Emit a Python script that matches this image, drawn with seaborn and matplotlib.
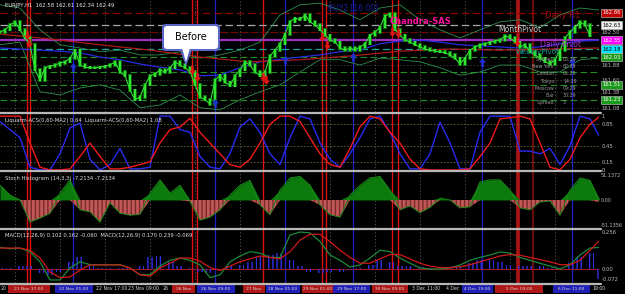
import matplotlib
matplotlib.use("Agg")
import matplotlib.pyplot as plt
import numpy as np
import seaborn as sns
from matplotlib.patches import FancyBboxPatch, Polygon, Rectangle

# ---------------- data ----------------
title_text = "EURJPY,H1  162.58 162.61 162.34 162.49"

# H1 closes, one per bar
closes = [162.50, 162.54, 162.63, 162.69, 162.54, 162.39, 162.26, 161.79, 161.60, 161.83,
          161.86, 161.88, 161.92, 161.94, 162.01, 162.16, 161.88, 161.84, 161.83, 161.83,
          161.84, 161.86, 161.88, 161.94, 161.75, 161.68, 161.41, 161.23, 161.28, 161.51,
          161.68, 161.71, 161.79, 161.75, 161.83, 161.94, 161.88, 161.83, 161.75, 161.51,
          161.28, 161.23, 161.15, 161.60, 161.69, 161.56, 161.49, 161.68, 161.79, 161.94,
          161.88, 161.75, 161.68, 161.75, 162.05, 162.16, 162.28, 162.46, 162.69, 162.76,
          162.73, 162.82, 162.69, 162.63, 162.54, 162.44, 162.35, 162.31, 162.20, 162.16,
          162.20, 162.16, 162.22, 162.28, 162.44, 162.50, 162.59, 162.80, 162.84, 162.54,
          162.44, 162.35, 162.31, 162.26, 162.22, 162.18, 162.16, 162.14, 162.13, 162.11,
          162.07, 162.01, 161.90, 162.01, 162.16, 162.22, 162.26, 162.28, 162.31, 162.33,
          162.35, 162.43, 162.39, 162.31, 162.22, 162.26, 162.13, 162.07, 162.01, 161.94,
          161.90, 161.98, 162.16, 162.39, 162.50, 162.59, 162.69, 162.63, 162.43]

# Bollinger envelope, every 4 bars
band_upper = [163.01, 162.95, 162.54, 162.26, 162.20, 162.13, 162.16, 162.07, 162.07, 162.13,
              162.01, 162.07, 162.16, 162.31, 162.82, 163.01, 163.04, 162.91, 162.73, 162.95,
              163.01, 162.73, 162.54, 162.39, 162.54, 162.69, 162.73, 162.58, 162.82, 162.95, 162.91]
band_lower = [162.26, 162.31, 161.38, 161.32, 161.45, 161.51, 161.41, 161.08, 161.13, 161.32,
              161.08, 161.04, 161.23, 161.38, 161.51, 161.75, 161.98, 161.98, 161.88, 162.01,
              161.98, 161.94, 161.83, 161.69, 161.75, 161.88, 161.88, 161.75, 161.75, 161.98, 162.01]
# moving averages
ma_blue = [162.20, 162.18, 162.16, 162.14, 162.11, 162.03, 161.98, 161.90, 161.84, 161.79,
           161.68, 161.69, 161.83, 161.94, 161.99, 162.03, 162.07, 162.13, 162.16, 162.28,
           162.33, 162.35, 162.31, 162.26, 162.24, 162.22, 162.20, 162.22, 162.28, 162.33, 162.35]  # every 4 bars
ma_red = [162.46, 162.37, 162.26, 162.16, 162.03, 161.94, 161.98, 162.05, 162.14, 162.18,
          162.16, 162.18, 162.20]  # every 10 bars

sell_bar = [5.4, 5.8, 38.4, 39.4, 52.6, 53.2, 64.4, 65.4, 78.4, 79.6, 103.4]
sell_price = [162.44, 162.29, 161.79, 161.66, 161.66, 161.60, 162.41, 162.26, 162.50, 162.48, 162.31]
buy_bar = [14.6, 43.0, 57.0, 70.6, 96.4, 114.4]
buy_price = [161.84, 161.17, 161.98, 162.03, 161.94, 161.94]

red_sessions = [5.4, 6.0, 38.4, 39.4, 52.6, 64.4, 65.2, 78.4, 79.6]
blue_sessions = [14.6, 43.0, 57.0, 70.6, 96.4, 114.4]
week_line = 103.6
month_line = 106.6

level_prices = [162.86, 162.63, 162.50, 162.35, 162.18, 162.03, 161.75, 161.51, 161.23]

axis_box_prices = [162.86, 162.63, 162.35, 162.18, 162.03, 161.51, 161.23]
axis_box_colors = ["#c00000", "#f0f0f0", "#ff00ff", "#00e8ff", "#1a9a1a", "#1a9a1a", "#1a9a1a"]
plain_tick_prices = [162.50, 161.88, 161.60, 161.38, 161.08]

info_names = ["Sydney :", "New York :", "London :", "Tokyo :", "Moscow :", "Bar :", "Spread :"]
info_values = ["00:29", "02:29", "05:29", "14:29", "09:29", "30:29", "3"]

# Liquarm ACS, every 2 bars
liq_blue = [0.90, 0.75, 0.60, 0.05, 0.00, 0.00, 0.30, 0.78, 0.87, 0.20,
            0.00, 0.10, 0.40, 0.02, 0.02, 0.05, 1.00, 1.00, 0.75, 0.70,
            0.25, 0.05, 0.02, 0.30, 0.80, 0.95, 0.70, 0.30, 0.10, 0.60,
            1.00, 0.95, 0.50, 0.20, 0.05, 0.30, 0.60, 0.95, 1.00, 0.70,
            0.30, 0.02, 0.02, 0.30, 0.89, 0.50, 0.02, 0.02, 0.70, 1.00,
            1.00, 1.00, 0.35, 0.35, 0.30, 0.40, 0.10, 0.45, 1.00, 0.95, 0.60]
liq_red = [1.00, 1.00, 1.00, 0.50, 0.05, 0.00, 0.00, 0.02, 0.25, 0.50,
           0.25, 0.02, 0.02, 0.05, 0.10, 0.15, 0.50, 0.75, 0.80, 0.96,
           0.70, 0.50, 0.30, 0.10, 0.05, 0.20, 0.50, 0.85, 1.00, 1.00,
           0.90, 0.60, 0.30, 0.10, 0.05, 0.40, 0.80, 1.00, 0.95, 0.70,
           0.50, 0.20, 0.02, 0.00, 0.00, 0.00, 0.00, 0.02, 0.25, 0.50,
           0.95, 0.97, 1.00, 0.95, 0.50, 0.05, 0.00, 0.20, 0.60, 0.85, 1.00]
liq_levels = [0.85, 0.45, 0.15]

# Stoch histogram, every 2 bars
stoch_hist = [30, 10, 0, -45, -37, -27, 14, 41, -20, -24,
              -45, -6, -27, -31, -29, 14, 41, 14, 30, -3,
              -41, -35, -20, 10, 30, 40, -10, -30, 20, 45,
              48, 30, -10, -30, -35, 10, 30, 45, 48, 20,
              -20, -12, -26, -15, 4, 0, -16, -14, 37, 41,
              41, 20, -16, -20, -4, -2, -31, 20, 45, 40, -5]

# MACD, every 2 bars
macd_main = [0.150, 0.140, 0.145, 0.120, 0.050, -0.076, -0.076, 0.007, 0.050, 0.030,
             0.030, 0.030, 0.030, 0.007, -0.040, -0.040, 0.020, 0.060, 0.076, 0.060,
             0.028, -0.060, -0.040, 0.050, 0.090, 0.120, 0.110, 0.080, 0.080, 0.235,
             0.256, 0.250, 0.190, 0.097, 0.060, 0.014, 0.028, 0.076, 0.130, 0.120,
             0.076, 0.040, 0.007, 0.000, 0.000, 0.007, 0.028, 0.060, 0.080, 0.097,
             0.118, 0.110, 0.080, 0.060, 0.040, 0.020, 0.000, 0.030, 0.097, 0.145, 0.150]
macd_signal = [0.145, 0.145, 0.145, 0.130, 0.076, -0.020, -0.060, -0.055, -0.007, 0.028,
               0.028, 0.028, 0.028, 0.007, -0.040, -0.050, 0.007, 0.040, 0.076, 0.076,
               0.055, 0.010, -0.010, 0.020, 0.050, 0.070, 0.090, 0.080, 0.070, 0.120,
               0.200, 0.240, 0.240, 0.190, 0.130, 0.080, 0.040, 0.040, 0.070, 0.100,
               0.100, 0.070, 0.040, 0.020, 0.010, 0.010, 0.015, 0.030, 0.050, 0.070,
               0.090, 0.100, 0.095, 0.080, 0.065, 0.050, 0.030, 0.030, 0.060, 0.130, 0.200]
macd_hist = [0.010, 0.005, 0.020, 0.020, -0.030, -0.040, -0.020, 0.050, 0.080, 0.020,
             0.005, 0.005, 0.010, 0.010, 0.020, 0.080, 0.090, 0.050, 0.020, 0.010,
             -0.020, -0.030, -0.010, 0.020, 0.030, 0.050, 0.080, 0.100, 0.110, 0.060,
             0.020, -0.020, -0.030, -0.020, -0.020, -0.010, 0.010, 0.030, 0.060, 0.050,
             0.020, 0.020, 0.015, 0.005, 0.010, 0.010, 0.020, 0.040, 0.060, 0.060,
             0.050, 0.030, 0.020, 0.020, 0.020, 0.010, 0.010, 0.040, 0.080, 0.110, -0.070]

# bottom time strip: (start px, end px, kind, text)
time_boxes = [(8, 50, "r", "21 Nov 17:00"), (55, 93, "b", "22 Nov 01:00"),
              (172, 195, "r", "26 Nov"), (197, 235, "b", "26 Nov 09:00"),
              (243, 265, "r", "27 Nov"), (266, 300, "b", "28 Nov 01:00"),
              (302, 333, "r", "29 Nov 01:00"), (333, 370, "b", "29 Nov 17:00"),
              (372, 408, "r", "30 Nov 09:00"), (462, 493, "b", "4 Dec 19:00"),
              (495, 543, "r", "5 Dec 03:00"), (553, 590, "b", "6 Dec 11:00")]
time_texts = [(1, "20"), (96, "22 Nov 17:00"), (128, "23 Nov 09:00"), (163, "26"),
              (412, "3 Dec 11:00"), (446, "4 Dec"), (592, "19:00")]

# ---------------- figure ----------------
sns.set_theme(style="dark")
plt.rcParams["font.family"] = ["DejaVu Sans"]
W, H = 625, 294
PR = 599  # right edge of plotting area (px)
fig = plt.figure(figsize=(W / 100, H / 100), dpi=100, facecolor="black")

GRID_X = np.arange(3, 120, 9)


def panel(top, bottom, ylim):
    ax = fig.add_axes([0, 1 - bottom / H, PR / W, (bottom - top) / H])
    ax.set_facecolor("black")
    ax.set_xlim(0, PR / 5)
    ax.set_ylim(*ylim)
    for s in ax.spines.values():
        s.set_visible(False)
    ax.set_xticks(GRID_X)
    ax.tick_params(axis="x", labelbottom=False, length=0)
    ax.grid(axis="x", color="#5a5a5a", ls=(0, (1.5, 2.5)), lw=0.6)
    ax.yaxis.tick_right()
    ax.tick_params(axis="y", length=0, labelsize=3.8, labelcolor="#bdbdbd", pad=2)
    ax.set_xlabel("")
    ax.set_ylabel("")
    return ax


def line(ax, xs, ys, color, lw, z=3, ls="-"):
    sns.lineplot(x=np.asarray(xs, float), y=np.asarray(ys, float), ax=ax, color=color,
                 lw=lw, ls=ls, estimator=None, sort=False, legend=False, zorder=z)
    ax.set_xlabel("")
    ax.set_ylabel("")


def sessions(ax):
    for xv in red_sessions:
        ax.axvline(xv, color="#e01010", lw=1.0, zorder=2)
    for xv in blue_sessions:
        ax.axvline(xv, color="#2020c8", lw=0.9, zorder=2)
    ax.axvline(week_line, color="#b01515", lw=2.6, zorder=2)
    ax.axvline(month_line, color="#6a0c0c", lw=1.6, zorder=2)


# ---- main price panel ----
ax = panel(0, 112, (161.0, 163.1))
sessions(ax)
ax.set_yticks(plain_tick_prices)
ax.set_yticklabels([f"{p:.2f}" for p in plain_tick_prices])
ax.grid(axis="y", color="#4a4a4a", ls=(0, (1.5, 2.5)), lw=0.6)
lvl_style = {162.86: ("#8b0000", (0, (6, 3)), 0.9), 162.63: ("#a8a8a8", (0, (6, 3)), 0.9),
             162.50: ("#7a0000", (0, (6, 3)), 0.8), 162.35: ("#a030c0", "-", 1.6),
             162.18: ("#1aa39a", (0, (6, 3)), 0.9), 162.03: ("#1f8f1f", (0, (6, 3)), 0.8),
             161.75: ("#1f8f1f", (0, (6, 3)), 0.8), 161.51: ("#1f8f1f", (0, (6, 3)), 0.8),
             161.23: ("#1f8f1f", (0, (6, 3)), 0.8)}
for p in level_prices:
    c, ls, lw = lvl_style[p]
    ax.axhline(p, color=c, ls=ls, lw=lw, zorder=2)

bx = np.arange(len(band_upper)) * 4
line(ax, bx, band_upper, "#2f8f4f", 0.6)
line(ax, bx, band_lower, "#2f8f4f", 0.6)
line(ax, np.arange(len(ma_blue)) * 4, ma_blue, "#2a2ae0", 0.9)
line(ax, np.arange(len(ma_red)) * 10, ma_red, "#b01818", 0.9)

cl = np.asarray(closes)
xb = np.arange(len(cl))
prev = np.r_[cl[0], cl[:-1]]
lo = np.minimum(prev, cl) - 0.03
hi = np.maximum(prev, cl) + 0.03
ax.vlines(xb, lo, hi, color="#117a11", lw=2.6, zorder=4)
ax.vlines(xb, lo + 0.01, hi - 0.01, color="#36f036", lw=1.3, zorder=5)
line(ax, xb, cl, "#2ee02e", 0.8, z=5)

arrow_dn = [(-0.3, 1), (0.3, 1), (0.3, 0), (0.8, 0), (0, -1), (-0.8, 0), (-0.3, 0)]
arrow_up = [(x, -y) for x, y in arrow_dn]
ax.scatter(sell_bar, sell_price, marker=arrow_dn, s=40, color="#e01515", zorder=7, lw=0)
ax.scatter(buy_bar, buy_price, marker=arrow_up, s=40, color="#2030d0", zorder=7, lw=0)

for p, c in zip(axis_box_prices, axis_box_colors):
    tc = "black" if c in ("#f0f0f0", "#00e8ff") else "white"
    ax.annotate(f"{p:.2f}", xy=(1, p), xycoords=("axes fraction", "data"),
                xytext=(2.5, 0), textcoords="offset points", va="center", ha="left",
                fontsize=3.8, color=tc, annotation_clip=False,
                bbox=dict(boxstyle="square,pad=0.25", fc=c, ec="#d0d0d0", lw=0.4))

ax.text(1, 162.99, title_text, fontsize=3.8, color="#e8e8e8", va="center", zorder=9)
ax.text(65.6, 162.96, "BUY2 [16:00]", fontsize=5.5, color="#1c1ca8", va="center", zorder=9)
ax.text(78.0, 162.70, "Chandra-SAS", fontsize=6, color="#ff10a0", fontweight="bold",
        va="center", zorder=9)
ax.text(109.0, 162.80, "Daily R1", fontsize=6, color="#a01010", va="center", zorder=9)
ax.text(99.6, 162.55, "MonthPivot", fontsize=5.5, color="#c8c8c8", va="center", zorder=9)
ax.text(108.0, 162.26, "Daily Pivot", fontsize=5.5, color="#b030c8", va="center", zorder=9)
ax.text(103.2, 162.12, "WeeklyPivot", fontsize=5.2, color="#1aa39a", va="center", zorder=9)
info_y = np.linspace(161.98, 161.18, len(info_names))
for nm, val, yv in zip(info_names, info_values, info_y):
    ax.text(111.4, yv, nm, fontsize=3.4, color="#9a9a9a", ha="right", va="center", zorder=9)
    ax.text(112.6, yv, val, fontsize=3.4, color="#9a9a9a", ha="left", va="center", zorder=9)

# ---- Liquarm panel ----
ax2 = panel(114, 171, (-0.02, 1.04))
sessions(ax2)
ax2.set_yticks([1, 0.85, 0.45, 0.15, 0])
ax2.set_yticklabels(["1", "0.85", "0.45", "0.15", "0"])
for v in liq_levels:
    ax2.axhline(v, color="#6a6a3a", ls=(0, (2, 2)), lw=0.6, zorder=2)
xi = np.arange(len(liq_blue)) * 2
line(ax2, xi, liq_blue, "#2a2af0", 1.0)
line(ax2, xi, liq_red, "#f01a1a", 1.0)
ax2.text(1, 0.92, "Liquarm-ACS(0,60-MA2) 0.64  Liquarm-ACS(0,60-MA2) 1.08", fontsize=3.8,
         color="#e0e0e0", va="center", zorder=9)

# ---- Stoch histogram panel ----
ax3 = panel(172, 228, (-57, 57))
sessions(ax3)
ax3.set_yticks([51.1372, 0, -51.1356])
ax3.set_yticklabels(["51.1372", "0.00", "-51.1356"])
ax3.tick_params(axis="y", labelsize=3.5, pad=1)
sv = np.asarray(stoch_hist, float)
xs = np.arange(len(sv)) * 2
ax3.fill_between(xs, 0, np.clip(sv, 0, None), color="#0c7a0c", lw=0, zorder=3)
ax3.fill_between(xs, 0, np.clip(sv, None, 0), color="#c05858", lw=0, zorder=3,
                 hatch="||||", edgecolor="#7a2a2a")
line(ax3, xs, sv, "#1a8a1a", 0.7, z=4)
ax3.text(1, 44, "Stoch Histogram (14,3,3) -7.2134 -7.2134", fontsize=3.8, color="#e0e0e0",
         va="center", zorder=9)

# ---- MACD panel ----
ax4 = panel(229, 283, (-0.097, 0.277))
sessions(ax4)
ax4.set_yticks([0.256, 0, -0.072])
ax4.set_yticklabels(["0.256", "0.00", "-0.072"])
ax4.axhline(0, color="#a01818", lw=0.8, zorder=2)
xm = np.arange(len(macd_hist)) * 2
ax4.bar(xm, macd_hist, width=1.6, color="none", zorder=3, lw=0, hatch="||||",
        edgecolor="#3030e8")
line(ax4, xm, macd_main, "#1a8a3a", 0.9, z=4)
line(ax4, xm, macd_signal, "#d01818", 0.9, z=4)
ax4.text(1, 0.235, "MACD(12,26,9) 0.102 0.162 -0.060  MACD(12,26,9) 0.170 0.239 -0.069",
         fontsize=3.8, color="#e0e0e0", va="center", zorder=9)

# ---- overlay (separators, callout, time strip) ----
ov = fig.add_axes([0, 0, 1, 1])
ov.set_xlim(0, W)
ov.set_ylim(H, 0)
ov.axis("off")
ov.patch.set_alpha(0)
for yv in (113, 171, 229, 283.5):
    ov.plot([0, PR + 2], [yv, yv], color="#b8b8b8", lw=1.6)

ov.add_patch(FancyBboxPatch((162, 24), 58, 27, boxstyle="round,pad=0,rounding_size=4",
                            fc="#5a66c8", ec="none"))
ov.add_patch(FancyBboxPatch((164, 26), 54, 23, boxstyle="round,pad=0,rounding_size=3",
                            fc="white", ec="none"))
ov.add_patch(Polygon([(180, 50), (192, 50), (186, 66)], closed=True, fc="#5a66c8", ec="none"))
ov.add_patch(Polygon([(182, 48), (190, 48), (186, 62)], closed=True, fc="white", ec="none"))
ov.text(191, 37.5, "Before", fontsize=7, color="black", ha="center", va="center")

for x0, x1, kind, txt in time_boxes:
    ov.add_patch(Rectangle((x0, 285), x1 - x0, 8, fc="#b01818" if kind == "r" else "#2020b8",
                           ec="none"))
    ov.text((x0 + x1) / 2, 289, txt, fontsize=3.2, color="#d8d8d8", ha="center", va="center",
            clip_on=True)
for x0, txt in time_texts:
    ov.text(x0, 289, txt, fontsize=3.3, color="#d8d8d8", ha="left", va="center")

fig.savefig("out.png", dpi=100, facecolor="black")
